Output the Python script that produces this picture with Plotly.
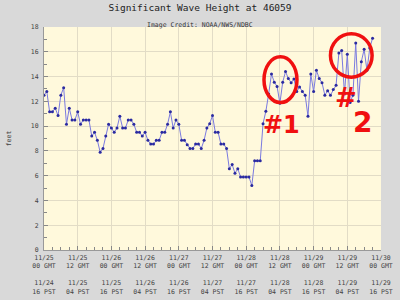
import pandas as pd
import plotly.graph_objects as go

# Hourly significant wave height (feet) starting 11/25 00 GMT
start_time = "2012-11-25 00:00"
wave_ft = [
    12.5, 12.8, 11.15, 11.15, 11.45, 10.85, 12.5, 13.1, 10.15, 11.45,
    10.5, 10.5, 11.15, 10.15, 10.5, 10.5, 10.5, 9.2, 9.5, 8.85,
    7.9, 8.2, 9.2, 10.15, 9.85, 9.5, 9.85, 10.8, 9.85, 9.85,
    10.5, 10.5, 10.15, 9.5, 9.5, 9.2, 9.5, 8.85, 8.55, 8.55,
    8.85, 8.85, 9.5, 9.5, 10.15, 11.15, 9.85, 10.5, 10.15, 8.85,
    8.85, 8.5, 8.2, 8.2, 8.55, 8.55, 8.2, 8.85, 9.85, 10.2,
    10.85, 9.5, 9.5, 8.55, 8.55, 8.2, 6.55, 6.9, 6.2, 6.55,
    5.9, 5.9, 5.9, 5.9, 5.2, 7.2, 7.2, 7.2, 10.2, 11.2,
    12.6, 14.2, 13.55, 13.2, 11.85, 13.55, 14.4, 13.85, 13.5, 13.8,
    12.8, 13.15, 12.8, 12.5, 10.8, 14.2, 12.8, 14.5, 13.85, 13.5,
    12.5, 12.85, 12.5, 12.95, 13.3, 15.9, 16.1, 12.6, 15.8, 11.9,
    12.5, 16.7, 12.0, 15.2, 16.2, 14.5, 16.3, 17.1,
]
times = pd.date_range(start_time, periods=len(wave_ft), freq="h")

tick_times = ["2012-11-25 00:00", "2012-11-25 12:00", "2012-11-26 00:00", "2012-11-26 12:00",
              "2012-11-27 00:00", "2012-11-27 12:00", "2012-11-28 00:00", "2012-11-28 12:00",
              "2012-11-29 00:00", "2012-11-29 12:00", "2012-11-30 00:00"]
gmt_labels = ["11/25<br>00 GMT", "11/25<br>12 GMT", "11/26<br>00 GMT", "11/26<br>12 GMT",
              "11/27<br>00 GMT", "11/27<br>12 GMT", "11/28<br>00 GMT", "11/28<br>12 GMT",
              "11/29<br>00 GMT", "11/29<br>12 GMT", "11/30<br>00 GMT"]
pst_labels = ["11/24<br>16 PST", "11/25<br>04 PST", "11/25<br>16 PST", "11/26<br>04 PST",
              "11/26<br>16 PST", "11/27<br>04 PST", "11/27<br>16 PST", "11/28<br>04 PST",
              "11/28<br>16 PST", "11/29<br>04 PST", "11/29<br>16 PST"]
tick_text = [g + "<br><br>" + p for g, p in zip(gmt_labels, pst_labels)]
y_ticks = [0, 2, 4, 6, 8, 10, 12, 14, 16, 18]

MONO = "DejaVu Sans Mono"
RED = "#f01010"

fig = go.Figure()
fig.add_trace(go.Scatter(
    x=times, y=wave_ft, mode="lines+markers",
    line=dict(color="#7a7ae0", width=1),
    marker=dict(color="#2a2aa0", size=3),
    showlegend=False,
))

# hand-drawn style highlights
fig.add_shape(type="circle", x0="2012-11-28 06:20", x1="2012-11-28 18:05",
              y0=11.9, y1=15.6, line=dict(color=RED, width=3.5))
fig.add_shape(type="circle", x0="2012-11-29 06:00", x1="2012-11-29 20:50",
              y0=13.95, y1=17.45, line=dict(color=RED, width=3.5))
fig.add_annotation(x="2012-11-28 12:25", y=10.1, text="<b>#1</b>", showarrow=False,
                   font=dict(family="DejaVu Sans", size=24, color=RED))
fig.add_annotation(x="2012-11-29 11:40", y=12.3, text="<b>#</b>", showarrow=False,
                   font=dict(family="DejaVu Sans", size=26, color=RED))
fig.add_annotation(x="2012-11-29 17:20", y=10.3, text="<b>2</b>", showarrow=False,
                   font=dict(family="DejaVu Sans", size=28, color=RED))

fig.add_annotation(xref="paper", yref="paper", x=0.462, y=1.0345,
                   text="Image Credit: NOAA/NWS/NDBC", showarrow=False,
                   font=dict(family=MONO, size=6.5, color="#333333"))

fig.update_layout(
    width=400, height=300,
    margin=dict(l=44, r=18.5, t=27, b=50, autoexpand=False),
    paper_bgcolor="#d9d9d9",
    plot_bgcolor="#fff9dc",
    title=dict(text="Significant Wave Height at 46059", x=0.5, xref="container",
               xanchor="center", y=0.975, yref="container", yanchor="middle",
               font=dict(family=MONO, size=9.5, color="#222222")),
    font=dict(family=MONO, size=6.5, color="#444444"),
)
fig.update_xaxes(
    range=[tick_times[0], tick_times[-1]],
    tickmode="array", tickvals=tick_times, ticktext=tick_text,
    showgrid=True, gridcolor="#e2dcc6", gridwidth=1,
    ticks="inside", ticklen=4, tickcolor="#888888",
    showline=True, linecolor="#999999", linewidth=1,
    minor=dict(ticks="inside", ticklen=3, tickcolor="#888888",
               dtick=3 * 3600 * 1000, tick0=tick_times[0], showgrid=False),
    tickfont=dict(family=MONO, size=6.5, color="#444444"),
    ticklabelstandoff=1, automargin=False,
    zeroline=False, fixedrange=True,
)
fig.update_yaxes(
    range=[0, 18], tickmode="array", tickvals=y_ticks,
    showgrid=True, gridcolor="#e2dcc6", gridwidth=1,
    ticks="inside", ticklen=4, tickcolor="#888888",
    showline=True, linecolor="#999999", linewidth=1,
    minor=dict(ticks="inside", ticklen=3, tickcolor="#888888", dtick=1, showgrid=False),
    tickfont=dict(family=MONO, size=6.5, color="#444444"),
    ticklabelstandoff=3, automargin=False,
    title=dict(text="feet", standoff=18, font=dict(family=MONO, size=6.5, color="#444444")),
    zeroline=False, fixedrange=True,
)

fig.write_html("out.html")
